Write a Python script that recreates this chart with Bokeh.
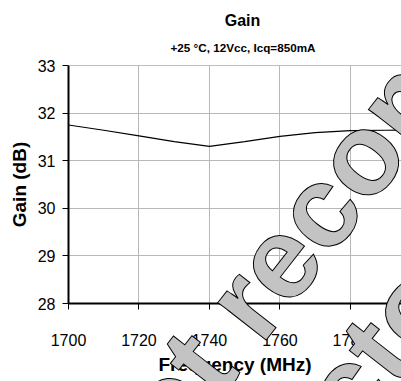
import math
from bokeh.plotting import figure
from bokeh.layouts import column
from bokeh.models import Range1d, FixedTicker, Label, Span, Title
from bokeh.embed import file_html
from bokeh.resources import INLINE

# ---- data ----
freq = [1700, 1710, 1720, 1730, 1740, 1750, 1760, 1770, 1780, 1790, 1800]
gain = [31.75, 31.64, 31.52, 31.40, 31.30, 31.40, 31.51, 31.59, 31.63, 31.64, 31.65]
x_ticks = [1700, 1720, 1740, 1760, 1780]
y_ticks = [28, 29, 30, 31, 32, 33]
X_MIN, X_MAX = 1700, 1794.5
Y_MIN, Y_MAX = 28, 33

title_text = "Gain"
subtitle_text = "+25 °C, 12Vcc, Icq=850mA"
x_title = "Frequency (MHz)"
y_title = "Gain (dB)"
watermark_lines = ["Not recommended", "Contact Factory"]

# ---- geometry ----
W, H = 401, 381
FL, FT, FW, FH = 68, 65, 333, 238

p = figure(width=W, height=H, output_backend="svg", toolbar_location=None,
           title=title_text,
           x_range=Range1d(X_MIN, X_MAX), y_range=Range1d(Y_MIN, Y_MAX),
           min_border_left=FL, min_border_right=0, min_border_top=FT,
           min_border_bottom=H - FT - FH)
p.outline_line_color = None
p.background_fill_color = "white"
p.border_fill_color = "white"

# main title (outer)
p.title.text_font = "Liberation Sans"
p.title.text_font_style = "bold"
p.title.text_font_size = "16px"
p.title.align = "left"
p.title.offset = 242 - FL - 17.8
p.title.standoff = -3
p.title.text_color = "black"

# subtitle (closest to the frame)
p.add_layout(Title(text=subtitle_text, text_font="Liberation Sans", text_font_style="bold",
                   text_font_size="11.7px", align="left", offset=242.5 - FL - 72.5,
                   standoff=23, text_color="black"), "above")

for ax in (p.xaxis[0], p.yaxis[0]):
    ax.axis_line_color = "black"
    ax.axis_line_width = 2
    ax.major_tick_line_color = "black"
    ax.major_tick_line_width = 1
    ax.major_tick_in = 0
    ax.major_tick_out = 6
    ax.minor_tick_line_color = None
    ax.major_label_text_font = "Liberation Sans"
    ax.major_label_text_font_size = "16px"
    ax.major_label_text_color = "black"
    ax.axis_label_text_font = "Liberation Sans"
    ax.axis_label_text_font_style = "bold"
    ax.axis_label_text_font_size = "19px"
    ax.axis_label_text_color = "black"

p.xaxis[0].ticker = FixedTicker(ticks=x_ticks)
p.yaxis[0].ticker = FixedTicker(ticks=y_ticks)
p.xaxis[0].major_label_standoff = 24
p.yaxis[0].major_label_standoff = 7
p.xaxis[0].axis_label = x_title
p.yaxis[0].axis_label = y_title
p.xaxis[0].axis_label_standoff = 5
p.yaxis[0].axis_label_standoff = 5

p.xgrid[0].ticker = FixedTicker(ticks=x_ticks)
p.ygrid[0].ticker = FixedTicker(ticks=y_ticks)
for g in (p.xgrid[0], p.ygrid[0]):
    g.grid_line_color = "#b8b8b8"
    g.grid_line_width = 1

p.add_layout(Span(location=Y_MAX, dimension="width", line_color="#808080", line_width=1))

p.line(freq, gain, line_color="black", line_width=1.2)

# ---- watermark: a transparent figure laid over the chart ----
wm = figure(width=W, height=H, output_backend="svg", toolbar_location=None,
            title=None,
            x_range=Range1d(0, W), y_range=Range1d(0, H),
            x_axis_type=None, y_axis_type=None, min_border=0,
            background_fill_color=None, border_fill_color=None,
            outline_line_color=None)
wm.styles = {"position": "absolute", "left": "0px", "top": "0px"}

wm_angle = math.radians(52)
wm_anchors = [(27.0, 499.0), (-134.8, 887.2)]
for txt, (ax_, ay_) in zip(watermark_lines, wm_anchors):
    wm.add_layout(Label(x=ax_, y=H - ay_, text=txt, text_align="left",
                        text_baseline="alphabetic", angle=wm_angle,
                        text_font="Liberation Sans", text_font_style="bold",
                        text_font_size="116px", text_color="#c3c3c3",
                        text_outline_color="black"))

layout = column(p, wm)
open("out.html", "w").write(file_html(layout, INLINE))
